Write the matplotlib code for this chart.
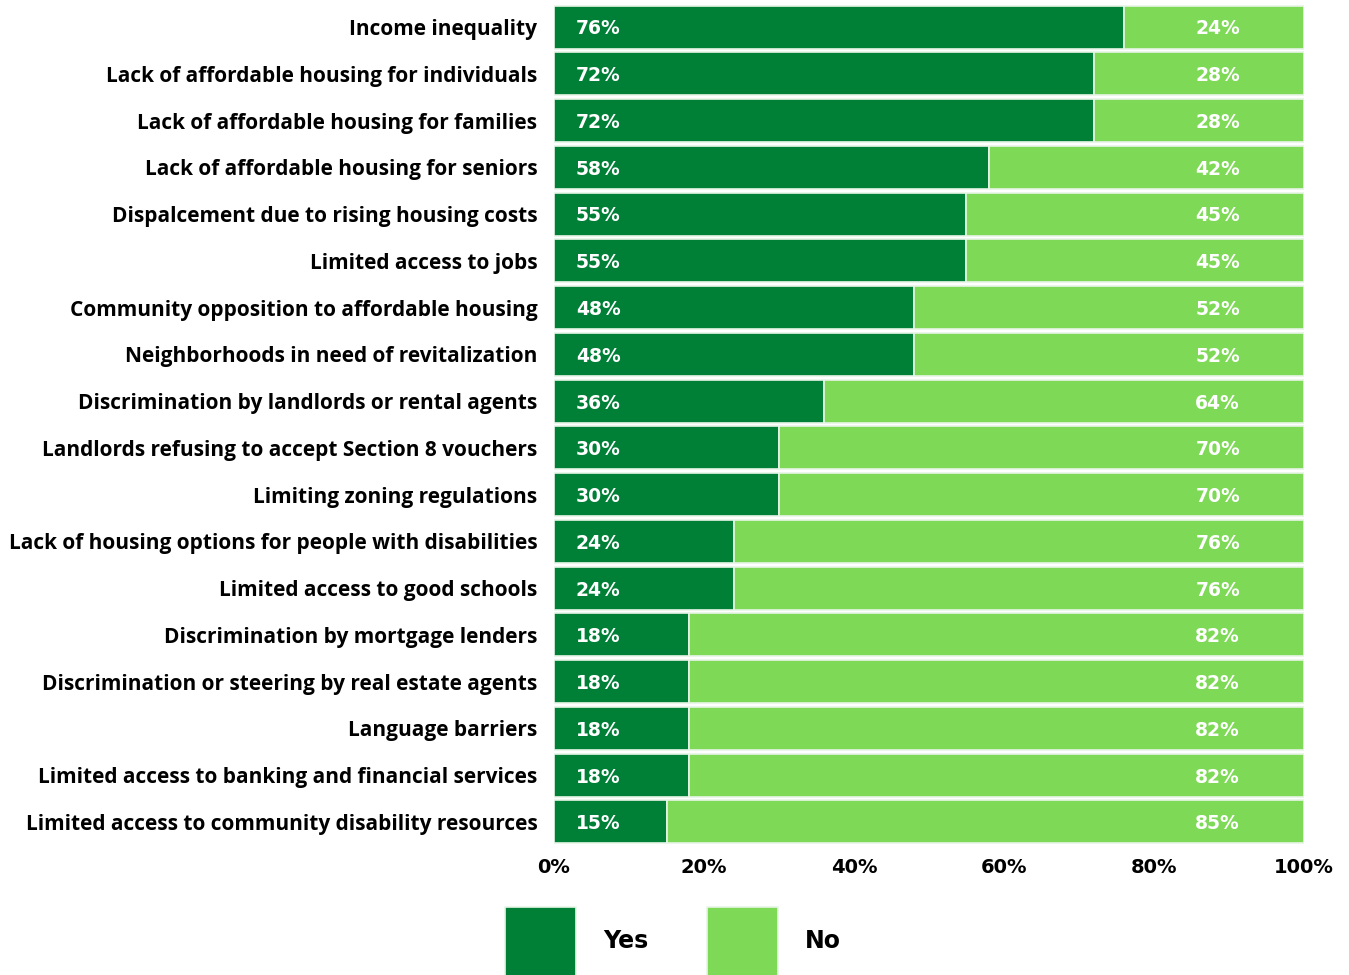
import numpy as np
import matplotlib.pyplot as plt

categories = [
    'Income inequality',
    'Lack of affordable housing for individuals',
    'Lack of affordable housing for families',
    'Lack of affordable housing for seniors',
    'Dispalcement due to rising housing costs',
    'Limited access to jobs',
    'Community opposition to affordable housing',
    'Neighborhoods in need of revitalization',
    'Discrimination by landlords or rental agents',
    'Landlords refusing to accept Section 8 vouchers',
    'Limiting zoning regulations',
    'Lack of housing options for people with disabilities',
    'Limited access to good schools',
    'Discrimination by mortgage lenders',
    'Discrimination or steering by real estate agents',
    'Language barriers',
    'Limited access to banking and financial services',
    'Limited access to community disability resources',
]
yes = [76, 72, 72, 58, 55, 55, 48, 48, 36, 30, 30, 24, 24, 18, 18, 18, 18, 15]
no = [24, 28, 28, 42, 45, 45, 52, 52, 64, 70, 70, 76, 76, 82, 82, 82, 82, 85]
xticks = [0, 20, 40, 60, 80, 100]

dark = '#007f37'
light = '#7ed957'

fig = plt.figure(figsize=(13.49, 9.75), dpi=100)
ax = fig.add_axes([0.4107, 0.133, 0.5559, 0.8632])

y = np.arange(len(categories))
b1 = ax.barh(y, yes, height=0.92, color=dark, edgecolor='#e8f5e8', linewidth=1.2, label='Yes')
b2 = ax.barh(y, no, left=yes, height=0.92, color=light, edgecolor='#e8f5e8', linewidth=1.2, label='No')

for i in range(len(categories)):
    ax.text(2.9, y[i] + 0.04, f'{yes[i]}%', color='white', fontsize=13.5, fontweight='bold',
            ha='left', va='center', family='DejaVu Sans')
    ax.text(88.5, y[i] + 0.04, f'{no[i]}%', color='white', fontsize=13.5, fontweight='bold',
            ha='center', va='center', family='DejaVu Sans')

ax.set_xlim(0, 100)
ax.set_ylim(len(categories) - 0.5, -0.5)
ax.set_yticks(y)
ax.set_yticklabels(categories, fontsize=15, fontweight='bold', family='Open Sans')
ax.set_xticks(xticks)
ax.set_xticklabels([f'{t}%' for t in xticks], fontsize=14, fontweight='bold', family='DejaVu Sans')
ax.tick_params(axis='y', length=0, pad=12)
ax.tick_params(axis='x', length=0, pad=9)
for s in ax.spines.values():
    s.set_visible(False)

fig.legend(handles=[b1, b2], loc='upper center', bbox_to_anchor=(0.499, 0.082),
           ncol=2, frameon=False, handlelength=3.0, handleheight=4.2,
           handletextpad=1.15, columnspacing=2.5, borderpad=0,
           prop={'family': 'DejaVu Sans', 'weight': 'bold', 'size': 17})

fig.savefig('out.png', dpi=100)
